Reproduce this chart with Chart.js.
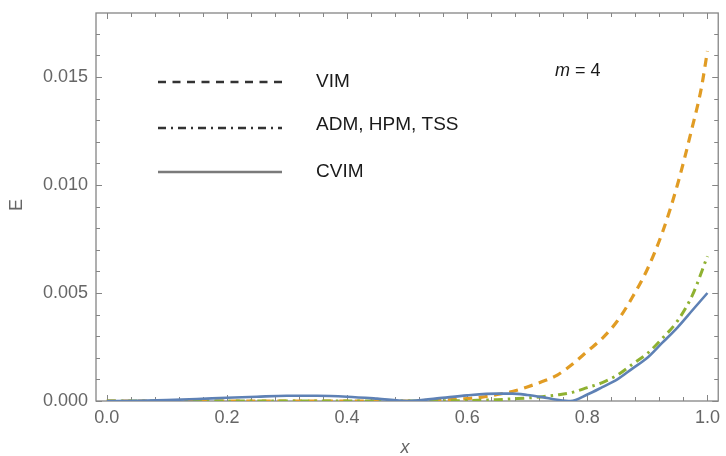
<!DOCTYPE html>
<html>
<head>
<meta charset="utf-8">
<title>E vs x, m = 4</title>
<script src="https://cdn.jsdelivr.net/npm/chart.js@4.4.1/dist/chart.umd.min.js"></script>
<style>
  body { margin: 0; background: #fff; }
  canvas { display: block; }
</style>
</head>
<body>
<canvas id="errorChart" width="726" height="456"></canvas>
<script>
// error curves (m = 4)

// VIM (orange, dashed)
const xVim = [0, 0.1, 0.2, 0.3, 0.4, 0.5, 0.525, 0.55, 0.575, 0.6, 0.625, 0.65, 0.675, 0.7, 0.725, 0.75, 0.775, 0.8, 0.825, 0.85, 0.875, 0.9, 0.925, 0.95, 0.975, 0.99, 1.0];
const eVim = [0, 0, 0, 0, 0, 0, 0.00002, 0.00004, 0.00006, 0.00011, 0.00018, 0.0003, 0.00044, 0.00065, 0.0009, 0.0012, 0.0017, 0.0023, 0.0029, 0.0037, 0.0048, 0.0061, 0.0078, 0.0100, 0.0127, 0.0145, 0.0162];

// ADM, HPM, TSS (green, dash-dot)
const xAdm = [0, 0.1, 0.2, 0.3, 0.4, 0.5, 0.55, 0.6, 0.625, 0.65, 0.675, 0.7, 0.725, 0.75, 0.775, 0.8, 0.825, 0.85, 0.875, 0.9, 0.925, 0.95, 0.975, 1.0];
const eAdm = [0, 0, 0, 0, 0, 0, 0.00001, 0.00002, 0.00004, 0.00006, 0.0001, 0.00014, 0.0002, 0.00028, 0.0004, 0.00062, 0.00085, 0.0012, 0.0017, 0.0022, 0.0029, 0.0037, 0.0049, 0.0067];

// CVIM (blue, solid)
const xCvim = [0, 0.05, 0.1, 0.15, 0.2, 0.25, 0.3, 0.35, 0.4, 0.45, 0.5, 0.55, 0.6, 0.65, 0.675, 0.7, 0.725, 0.75, 0.772, 0.8, 0.825, 0.85, 0.875, 0.9, 0.925, 0.95, 0.975, 1.0];
const eCvim = [0, 0.00001, 0.00004, 0.00009, 0.00015, 0.0002, 0.00024, 0.00024, 0.0002, 0.00011, 0, 0.00012, 0.00026, 0.00034, 0.00034, 0.00028, 0.00018, 0.00006, 0, 0.0003, 0.00064, 0.001, 0.0015, 0.002, 0.0027, 0.0034, 0.0042, 0.005];

// tick labels
const xTicks = [0, 0.2, 0.4, 0.6, 0.8, 1.0];
const yTicks = [0, 0.005, 0.010, 0.015];

const legendNames = ['VIM', 'ADM, HPM, TSS', 'CVIM'];

const FONT = "'Liberation Sans', Arial, sans-serif";

function pts(xs, ys) {
  return xs.map((v, i) => ({ x: v, y: ys[i] }));
}

// frame with inward ticks on all four sides (Mathematica style)
const framePlugin = {
  id: 'frame',
  beforeDatasetsDraw(chart) {
    const { ctx, chartArea: a, scales: { x, y } } = chart;
    ctx.save();
    ctx.strokeStyle = '#858585';
    ctx.lineWidth = 1.3;
    ctx.strokeRect(a.left, a.top, a.right - a.left, a.bottom - a.top);
    ctx.lineWidth = 1;
    ctx.beginPath();
    for (let i = 0; i <= 25; i++) {
      const px = Math.round(x.getPixelForValue(i * 0.04)) + 0.5;
      const len = i % 5 === 0 ? 6 : 4;
      ctx.moveTo(px, a.bottom); ctx.lineTo(px, a.bottom - len);
      ctx.moveTo(px, a.top); ctx.lineTo(px, a.top + len);
    }
    for (let i = 0; i <= 17; i++) {
      const py = Math.round(y.getPixelForValue(i * 0.001)) + 0.5;
      const len = i % 5 === 0 ? 6 : 4;
      ctx.moveTo(a.left, py); ctx.lineTo(a.left + len, py);
      ctx.moveTo(a.right, py); ctx.lineTo(a.right - len, py);
    }
    ctx.stroke();
    ctx.restore();
  },
  afterDraw(chart) {
    const { ctx, chartArea: a } = chart;
    ctx.save();

    // axis labels
    ctx.fillStyle = '#666';
    ctx.font = '18px ' + FONT;
    ctx.textAlign = 'center';
    ctx.textBaseline = 'middle';
    ctx.save();
    ctx.translate(17, 205);
    ctx.rotate(-Math.PI / 2);
    ctx.fillText('E', 0, 0);
    ctx.restore();
    ctx.font = 'italic 18px ' + FONT;
    ctx.fillText('x', (a.left + a.right) / 2 - 2, 448);

    // legend (black samples, like the original)
    const rows = [82, 128, 172];
    const dashes = [[8, 6.5], [8, 5, 2, 5], []];
    const colors = ['#333', '#333', '#7a7a7a'];
    rows.forEach((ry, i) => {
      ctx.beginPath();
      ctx.strokeStyle = colors[i];
      ctx.lineWidth = 2.5;
      ctx.setLineDash(dashes[i]);
      ctx.moveTo(158, ry);
      ctx.lineTo(282, ry);
      ctx.stroke();
    });
    ctx.setLineDash([]);
    ctx.fillStyle = '#1a1a1a';
    ctx.font = '19px ' + FONT;
    ctx.textAlign = 'left';
    legendNames.forEach((name, i) => ctx.fillText(name, 316, rows[i] + (i === 1 ? -3 : 0)));

    // m = 4
    ctx.font = 'italic 18px ' + FONT;
    ctx.fillText('m', 555, 71);
    const mw = ctx.measureText('m').width;
    ctx.font = '18px ' + FONT;
    ctx.fillText(' = 4', 555 + mw, 71);
    ctx.restore();
  }
};

const ctx = document.getElementById('errorChart').getContext('2d');
new Chart(ctx, {
  type: 'line',
  data: {
    datasets: [
      {
        label: 'CVIM',
        data: pts(xCvim, eCvim),
        borderColor: '#5E81B5',
        borderWidth: 2.6
      },
      {
        label: 'ADM, HPM, TSS',
        data: pts(xAdm, eAdm),
        borderColor: '#8FB131',
        borderWidth: 3,
        borderDash: [9, 5, 2.5, 5]
      },
      {
        label: 'VIM',
        data: pts(xVim, eVim),
        borderColor: '#E19C24',
        borderWidth: 3.2,
        borderDash: [9, 6.5]
      }
    ]
  },
  options: {
    responsive: false,
    animation: false,
    devicePixelRatio: 1,
    cubicInterpolationMode: 'monotone',
    elements: { point: { radius: 0 } },
    layout: { padding: { left: 0, right: 4, top: 13, bottom: 0 } },
    plugins: { legend: { display: false }, tooltip: { enabled: false } },
    scales: {
      x: {
        type: 'linear',
        min: -0.018,
        max: 1.018,
        grid: { display: false, drawTicks: false },
        border: { display: false },
        afterBuildTicks: (s) => { s.ticks = xTicks.map(v => ({ value: v })); },
        afterFit: (s) => { s.height = 55; },
        ticks: {
          color: '#666',
          font: { family: FONT, size: 18 },
          padding: 6,
          maxRotation: 0,
          callback: (v) => Number(v).toFixed(1)
        }
      },
      y: {
        type: 'linear',
        min: 0,
        max: 0.01796,
        grid: { display: false, drawTicks: false },
        border: { display: false },
        afterBuildTicks: (s) => { s.ticks = yTicks.map(v => ({ value: v })); },
        afterFit: (s) => { s.width = 96; },
        ticks: {
          color: '#666',
          // small lineHeight so the top label does not push the plot area down
          font: { family: FONT, size: 18, lineHeight: 0.4 },
          padding: 8,
          callback: (v) => Number(v).toFixed(3)
        }
      }
    }
  },
  plugins: [framePlugin]
});
</script>
</body>
</html>
